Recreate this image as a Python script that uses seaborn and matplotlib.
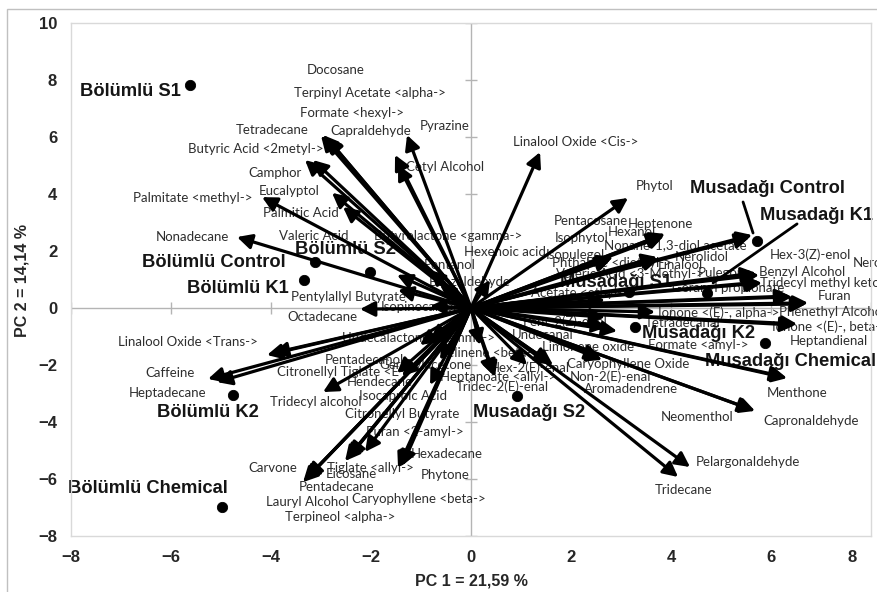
import numpy as np
import pandas as pd
import seaborn as sns
import matplotlib.pyplot as plt
from matplotlib.patches import Rectangle
from matplotlib.transforms import ScaledTranslation

# sample scores (PC1, PC2)
samples = ['Bölümlü S1', 'Bölümlü S2', 'Bölümlü Control', 'Bölümlü K1', 'Bölümlü K2',
           'Bölümlü Chemical', 'Musadağı Control', 'Musadağı K1', 'Musadağı S1',
           'Musadağı K2', 'Musadağı Chemical', 'Musadağı S2']
sample_pc1 = [-5.62, -2.02, -3.12, -3.34, -4.76, -4.98, 5.72, 4.72, 3.16, 3.28, 5.88, 0.92]
sample_pc2 = [7.82, 1.26, 1.61, 0.98, -3.05, -6.98, 2.35, 0.53, 0.56, -0.67, -1.23, -3.09]
# where the sample names were put (left edge)
sample_lab_x = [-7.82, -3.52, -6.58, -5.68, -6.28, -8.06, 4.38, 5.78, 1.78, 3.42, 4.68, 0.04]
sample_lab_y = [7.61, 2.04, 1.61, 0.67, -3.68, -6.32, 4.18, 3.23, 0.88, -0.88, -1.89, -3.68]

# volatile compounds: loadings and label centres
compounds = ['Docosane', 'Terpinyl Acetate <alpha->', 'Formate <hexyl->', 'Tetradecane',
             'Capraldehyde', 'Pyrazine', 'Cetyl Alcohol', 'Butyric Acid <2metyl->', 'Camphor',
             'Eucalyptol', 'Palmitate <methyl->', 'Palmitic Acid', 'Nonadecane', 'Valeric Acid',
             'Butyrolactone <gamma->', 'Pentylallyl Butyrate', 'Pentanol', 'Benzaldehyde',
             'Hexenoic acid', 'Isopinocamphone', 'Octadecane', 'Linalool Oxide <Trans->',
             'Undecalactone <gamma->', 'Caffeine', 'Heptadecane', 'Pentadecanol',
             'Geranylacetone', 'Citronellyl Tiglate <E->', 'Hendecane', 'Tridecyl alcohol',
             'Isocaproic Acid', 'Citronellyl Butyrate', 'Furan <2-amyl->', 'Tiglate <allyl->',
             'Eicosane', 'Hexadecane', 'Phytone', 'Carvone', 'Pentadecane', 'Lauryl Alcohol',
             'Caryophyllene <beta->', 'Terpineol <alpha->', 'Selinene <beta->',
             'Heptanoate <allyl->', 'Tridec-2(E)-enal', 'Hex-2(E)-enal', 'Caryophyllene Oxide',
             'Non-2(E)-enal', 'Limonene oxide', 'Aromadendrene', 'Pent-2(Z)-enol', 'Undecanal',
             'Formate <amyl->', 'Menthone', 'Neomenthol', 'Capronaldehyde', 'Pelargonaldehyde',
             'Tridecane', 'Linalool Oxide <Cis->', 'Phytol', 'Pentacosane', 'Heptenone',
             'Hexanol', 'Isophytol', 'Nonane-1,3-diol acetate', 'Isopulegol', 'Nerolidol',
             'Phthalate <diethyl->', 'Linalool', 'Valeric Acid <3-Methyl->', 'Pulegone',
             'Hex-3(Z)-enol', 'Benzyl Alcohol', 'Nerol', 'Tridecyl methyl ketone',
             'Geranyl propionate', 'Acetate <ethyl->', 'Furan', 'Phenethyl Alcohol',
             'Ionone <(E)-, alpha->', 'Tetradecanal', 'Ionone <(E)-, beta->', 'Heptandienal']
load_pc1 = [-2.96, -2.90, -2.88, -3.00, -1.52, -1.28, -1.46, -3.32, -3.16, -2.78, -4.18, -2.56,
            -4.68, -1.48, -0.82, -1.46, -0.62, -0.42, 0.38, -0.82, -2.22, -4.08, -3.96, -5.26,
            -5.08, -1.02, -0.82, -1.48, -1.38, -2.96, -0.62, -0.82, -2.12, -2.48, -2.44, -1.42,
            -1.38, -3.32, -3.28, -3.36, -1.46, -2.52, 0.18, 0.44, 0.48, 1.12, 1.58, 1.64, 2.58,
            2.62, 2.72, 2.92, 6.28, 6.32, 5.64, 5.68, 4.38, 4.14, 1.38, 3.14, 3.82, 3.88, 3.86,
            5.58, 5.62, 2.84, 3.72, 2.80, 3.76, 5.72, 5.76, 5.70, 5.78, 6.38, 6.42, 5.82, 2.68,
            6.74, 6.70, 3.68, 2.68, 6.52, 6.48]
load_pc2 = [6.07, 6.00, 5.96, 6.04, 5.37, 6.07, 5.02, 5.19, 5.19, 4.04, 3.89, 3.54, 2.49, 1.16,
            1.33, 0.63, 0.81, 0.46, 0.98, 0.07, -0.04, -1.65, -1.58, -2.49, -2.60, -1.30, -1.12,
            -2.28, -2.39, -2.95, -1.82, -2.70, -5.05, -5.30, -5.23, -5.58, -5.54, -6.04, -5.96,
            -6.11, -5.61, -5.37, -1.30, -2.35, -2.42, -2.00, -1.93, -2.00, -1.75, -1.82, -0.67,
            -0.81, -2.42, -2.46, -3.58, -3.61, -5.58, -5.93, 5.47, 3.86, 2.56, 2.60, 2.53, 2.49,
            2.56, 1.79, 1.79, 1.72, 1.72, 1.19, 1.16, 1.23, 0.91, 0.42, 0.39, 0.88, 0.28, 0.18,
            0.14, -0.14, -0.32, -0.56, -0.60]
lab_x = [-2.70, -2.02, -2.38, -3.98, -2.00, -0.52, -0.52, -4.30, -3.92, -3.64, -5.56, -3.40,
         -5.58, -3.14, -0.46, -2.46, -0.42, -0.02, 0.68, -0.78, -2.98, -5.66, -1.06, -6.02,
         -6.06, -2.14, -0.92, -2.54, -1.82, -3.10, -1.36, -1.38, -1.12, -2.02, -2.40, -0.48,
         -0.52, -3.96, -2.68, -3.28, -1.04, -2.62, 0.38, 0.54, 0.62, 1.18, 3.14, 2.78, 2.34,
         3.20, 1.88, 1.44, 4.54, 6.52, 4.52, 6.80, 5.54, 4.26, 2.10, 3.68, 2.40, 3.78, 3.22,
         2.22, 4.08, 2.08, 4.62, 2.82, 4.18, 3.18, 5.08, 6.78, 6.62, 7.96, 7.12, 5.14, 2.18,
         7.28, 7.22, 4.96, 4.24, 7.18, 7.16]
lab_y = [8.35, 7.54, 6.84, 6.25, 6.21, 6.39, 4.95, 5.58, 4.74, 4.11, 3.86, 3.33, 2.49, 2.53,
         2.53, 0.39, 1.51, 0.91, 1.96, 0.04, -0.32, -1.19, -1.05, -2.28, -2.98, -1.82, -2.00,
         -2.25, -2.60, -3.30, -3.09, -3.72, -4.35, -5.61, -5.82, -5.12, -5.86, -5.61, -6.28,
         -6.81, -6.70, -7.33, -1.58, -2.42, -2.77, -2.11, -1.96, -2.42, -1.37, -2.84, -0.49,
         -0.95, -1.30, -2.98, -3.82, -3.96, -5.40, -6.39, 5.82, 4.28, 3.05, 2.95, 2.67, 2.46,
         2.21, 1.86, 1.79, 1.58, 1.51, 1.19, 1.23, 1.86, 1.26, 1.58, 0.88, 0.70, 0.53, 0.42,
         -0.14, -0.18, -0.53, -0.67, -1.16]

xticks = list(range(-8, 9, 2))
yticks = list(range(-8, 11, 2))

sns.set_style('white')
fig = plt.figure(figsize=(8.78, 5.92), dpi=100)
ax = fig.add_axes([0.0809, 0.0946, 0.9112, 0.8666])

# excel style axes through the origin
ax.axhline(0, color='#b4b4b4', lw=1, zorder=1)
ax.axvline(0, color='#b4b4b4', lw=1, zorder=1)
ax.plot(np.zeros(len(yticks)), yticks, ls='none', marker='_', ms=9, mew=1, color='#b4b4b4', zorder=1)
ax.plot(xticks, np.zeros(len(xticks)), ls='none', marker='|', ms=9, mew=1, color='#b4b4b4', zorder=1)

for name, x, y in zip(compounds, lab_x, lab_y):
    ax.text(x, y, name, ha='center', va='center', fontsize=9.5, family='Lato',
            color='#2e2e2e', zorder=2)

for name, x, y in zip(samples, sample_lab_x, sample_lab_y):
    ax.text(x, y, name, ha='left', va='center', fontsize=13.2, fontweight='bold',
            family='Liberation Sans', color='#151515', zorder=2.5)

for x, y in zip(load_pc1, load_pc2):
    ax.annotate('', xy=(x, y), xytext=(0, 0),
                arrowprops=dict(arrowstyle='-|>,head_length=0.55,head_width=0.28', lw=2.3,
                                color='black', shrinkA=0, shrinkB=0, mutation_scale=16),
                zorder=3)

# leader lines from the Musadağı labels to their points
ax.plot([5.44, 5.64], [3.72, 2.63], color='black', lw=2, zorder=3)
ax.plot([6.52, 4.84], [2.95, 0.88], color='black', lw=2, zorder=3)

df = pd.DataFrame({'PC1': sample_pc1, 'PC2': sample_pc2, 'Sample': samples})
sns.scatterplot(data=df, x='PC1', y='PC2', color='black', s=55, edgecolor='black',
                ax=ax, zorder=4, legend=False)

ax.set_xlim(-8, 8)
ax.set_ylim(-8, 10)
ax.set_xticks(xticks)
ax.set_yticks(yticks)
ax.set_xlabel('')
ax.set_ylabel('')
ax.tick_params(length=0, pad=10, labelsize=12)
for lbl in ax.get_xticklabels() + ax.get_yticklabels():
    lbl.set_fontweight('bold')
    lbl.set_family('Liberation Sans')
last = ax.get_xticklabels()[-1]
last.set_transform(last.get_transform() + ScaledTranslation(-0.19, 0, fig.dpi_scale_trans))
for sp in ax.spines.values():
    sp.set_color('#d9d9d9')
    sp.set_linewidth(1)

fig.text(471 / 878, 1 - 581 / 592, 'PC 1 = 21,59 %', ha='center', va='center',
         fontsize=11.5, fontweight='bold', family='Liberation Sans')
fig.text(22 / 878, 1 - 280 / 592, 'PC 2 = 14,14 %', ha='center', va='center', rotation=90,
         fontsize=11.5, fontweight='bold', family='Liberation Sans')

fig.add_artist(Rectangle((7.5 / 878, -0.05), 1.1, (592 - 9) / 592 + 0.05,
                         transform=fig.transFigure, fill=False, edgecolor='#c0c0c0', lw=1))

fig.savefig('out.png', dpi=100)
